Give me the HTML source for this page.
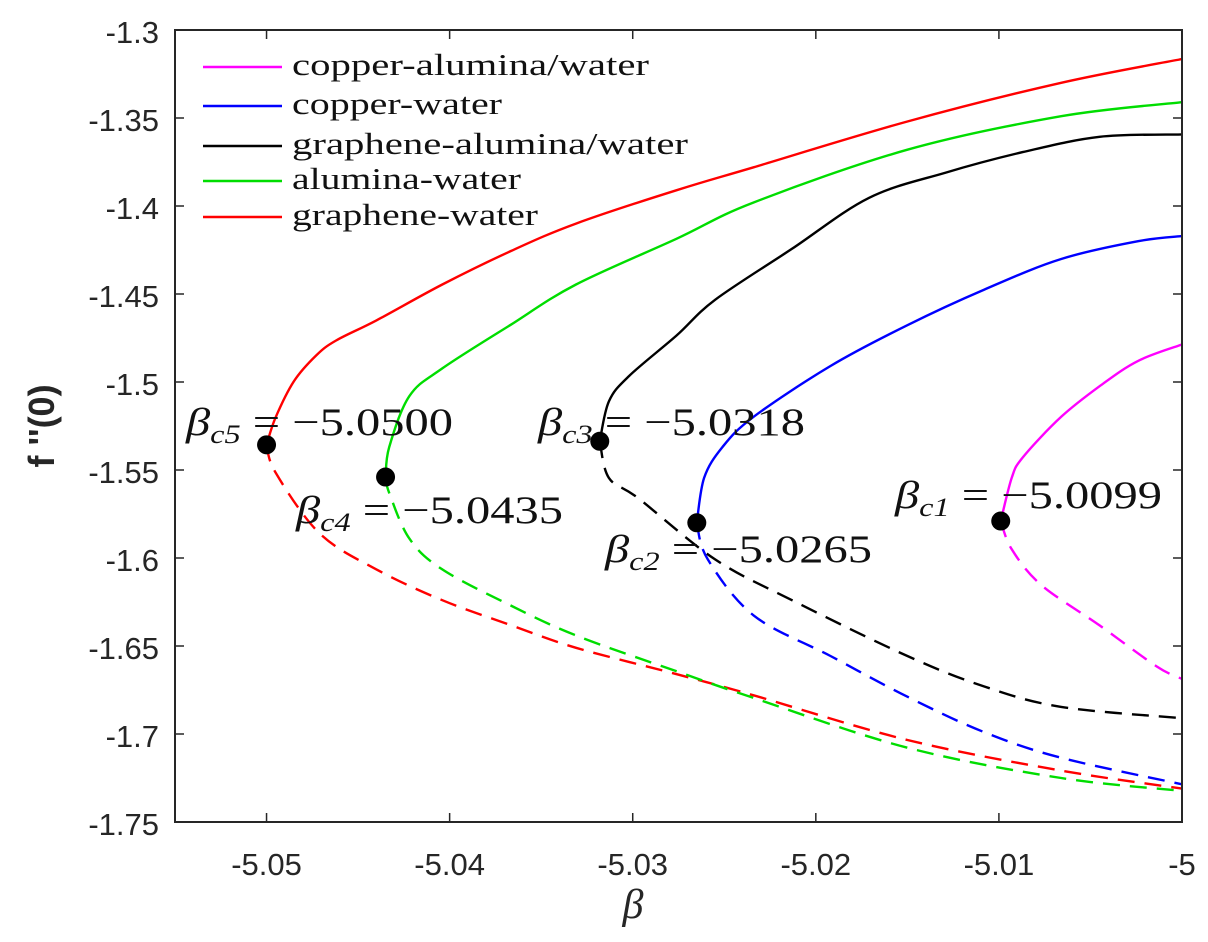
<!DOCTYPE html>
<html><head><meta charset="utf-8">
<style>
html,body{margin:0;padding:0;background:#fff;}
svg{display:block;}
.tick{font-family:"Liberation Sans",Arial,sans-serif;font-size:31px;fill:#262626;}
.leg{font-family:"Liberation Serif",serif;font-size:31px;fill:#111;}
.ann{font-family:"Liberation Serif",serif;font-size:39px;fill:#111;}
</style></head>
<body>
<svg id="chart" width="1208" height="942" viewBox="0 0 1208 942">
<rect x="0" y="0" width="1208" height="942" fill="#fff"/>
<g id="series"></g>
<g id="axes"></g>
<g id="legend"></g>
<g id="ann"></g>
</svg>
<script>
const xTicks=[-5.05,-5.04,-5.03,-5.02,-5.01,-5];
const xTickLabels=["-5.05","-5.04","-5.03","-5.02","-5.01","-5"];
const yTicks=[-1.3,-1.35,-1.4,-1.45,-1.5,-1.55,-1.6,-1.65,-1.7,-1.75];
const yTickLabels=["-1.3","-1.35","-1.4","-1.45","-1.5","-1.55","-1.6","-1.65","-1.7","-1.75"];
const seriesNames=["copper-alumina/water","copper-water","graphene-alumina/water","alumina-water","graphene-water"];
const seriesColors=["#ff00ff","#0000ff","#000000","#00dd00","#ff0000"];
const criticalBeta=[-5.0099,-5.0265,-5.0318,-5.0435,-5.0500];
const criticalF=[-1.579,-1.580,-1.5337,-1.554,-1.5357];
const criticalLabels=["\u22125.0099","\u22125.0265","\u22125.0318","\u22125.0435","\u22125.0500"];
const magentaUpperB=[-5.0099,-5.0093,-5.0087,-5.0066,-5.0045,-5.0024,-5.0];
const magentaUpperF=[-1.579,-1.5545,-1.5429,-1.5198,-1.5024,-1.488,-1.4787];
const magentaLowerB=[-5.0099,-5.0093,-5.0077,-5.0045,-5.0014,-5.0];
const magentaLowerF=[-1.579,-1.595,-1.6152,-1.6383,-1.6615,-1.6687];
const blueUpperB=[-5.0265,-5.0261,-5.0251,-5.0234,-5.0192,-5.015,-5.0108,-5.0066,-5.0024,-5.0];
const blueUpperF=[-1.580,-1.5545,-1.537,-1.5198,-1.4909,-1.4677,-1.4475,-1.4301,-1.42,-1.4171];
const blueLowerB=[-5.0265,-5.0259,-5.0234,-5.0192,-5.015,-5.0108,-5.0066,-5.0];
const blueLowerF=[-1.580,-1.6008,-1.6326,-1.6557,-1.6788,-1.699,-1.7135,-1.7286];
const blackUpperB=[-5.0318,-5.0313,-5.0302,-5.0276,-5.0255,-5.0213,-5.0171,-5.0129,-5.0087,-5.0045,-5.0];
const blackUpperF=[-1.5337,-1.511,-1.4966,-1.4735,-1.4533,-1.4243,-1.3954,-1.381,-1.3694,-1.3607,-1.3593];
const blackLowerB=[-5.0318,-5.0313,-5.0297,-5.0255,-5.0213,-5.015,-5.0108,-5.0066,-5.0];
const blackLowerF=[-1.5337,-1.5545,-1.566,-1.6008,-1.624,-1.6557,-1.673,-1.6846,-1.691];
const greenUpperB=[-5.0435,-5.0433,-5.0422,-5.0404,-5.0367,-5.0331,-5.0276,-5.0234,-5.015,-5.0066,-5.0];
const greenUpperF=[-1.554,-1.537,-1.508,-1.4923,-1.4677,-1.4446,-1.4186,-1.398,-1.368,-1.349,-1.341];
const greenLowerB=[-5.0435,-5.0433,-5.0422,-5.0404,-5.0367,-5.0331,-5.0276,-5.0234,-5.015,-5.0066,-5.0];
const greenLowerF=[-1.554,-1.563,-1.589,-1.6065,-1.6268,-1.644,-1.6644,-1.6795,-1.7078,-1.725,-1.7323];
const redUpperB=[-5.05,-5.0495,-5.0485,-5.0473,-5.0462,-5.044,-5.0404,-5.0367,-5.0331,-5.0276,-5.0234,-5.015,-5.0066,-5.0];
const redUpperF=[-1.5357,-1.52,-1.4995,-1.485,-1.4764,-1.465,-1.4446,-1.4258,-1.41,-1.391,-1.378,-1.352,-1.33,-1.3165];
const redLowerB=[-5.05,-5.0495,-5.0471,-5.044,-5.0404,-5.0367,-5.0331,-5.0276,-5.0234,-5.015,-5.0066,-5.0];
const redLowerF=[-1.5357,-1.5516,-1.586,-1.6065,-1.624,-1.638,-1.651,-1.666,-1.678,-1.7034,-1.7208,-1.731];

const L=175,R=1182,T=30,B=822;
const xMin=-5.055,xMax=-5.0,yMin=-1.75,yMax=-1.3;
function sx(v){return L+(v-xMin)/(xMax-xMin)*(R-L);}
function sy(v){return B-(v-yMin)/(yMax-yMin)*(B-T);}
const NS="http://www.w3.org/2000/svg";
function mk(tag,attrs,parent){const e=document.createElementNS(NS,tag);for(const k in attrs)e.setAttribute(k,attrs[k]);parent.appendChild(e);return e;}
function smooth(bs,fs){
  const p=bs.map((b,i)=>[sx(b),sy(fs[i])]);
  let d="M"+p[0][0].toFixed(1)+","+p[0][1].toFixed(1);
  for(let i=0;i<p.length-1;i++){
    const p0=p[i-1]||p[i],p1=p[i],p2=p[i+1],p3=p[i+2]||p2;
    const c1=[p1[0]+(p2[0]-p0[0])/6,p1[1]+(p2[1]-p0[1])/6];
    const c2=[p2[0]-(p3[0]-p1[0])/6,p2[1]-(p3[1]-p1[1])/6];
    d+=" C"+c1[0].toFixed(1)+","+c1[1].toFixed(1)+" "+c2[0].toFixed(1)+","+c2[1].toFixed(1)+" "+p2[0].toFixed(1)+","+p2[1].toFixed(1);
  }
  return d;
}
const sg=document.getElementById('series');
const uppers=[[magentaUpperB,magentaUpperF],[blueUpperB,blueUpperF],[blackUpperB,blackUpperF],[greenUpperB,greenUpperF],[redUpperB,redUpperF]];
const lowers=[[magentaLowerB,magentaLowerF],[blueLowerB,blueLowerF],[blackLowerB,blackLowerF],[greenLowerB,greenLowerF],[redLowerB,redLowerF]];
const keys=["copper-alumina","copper","graphene-alumina","alumina","graphene"];
for(let i=4;i>=0;i--){
  const lo=mk('path',{d:smooth(lowers[i][0],lowers[i][1]),fill:'none',stroke:seriesColors[i],'stroke-width':2.4,'stroke-dasharray':'17,10'},sg);
  
  
  const up=mk('path',{d:smooth(uppers[i][0],uppers[i][1]),fill:'none',stroke:seriesColors[i],'stroke-width':2.4},sg);
  
  
}
const ag=document.getElementById('axes');
const frame=mk('rect',{x:L,y:T,width:R-L,height:B-T,fill:'none',stroke:'#262626','stroke-width':2},ag);


xTicks.forEach((v,i)=>{
  mk('line',{x1:sx(v),x2:sx(v),y1:B,y2:B-9,stroke:'#262626','stroke-width':1.5},ag);
  mk('line',{x1:sx(v),x2:sx(v),y1:T,y2:T+9,stroke:'#262626','stroke-width':1.5},ag);
  const t=mk('text',{x:sx(v),y:B+53,'text-anchor':'middle',class:'tick'},ag);
  t.textContent=xTickLabels[i];
  
  
});
yTicks.forEach((v,i)=>{
  mk('line',{x1:L,x2:L+9,y1:sy(v),y2:sy(v),stroke:'#262626','stroke-width':1.5},ag);
  mk('line',{x1:R,x2:R-9,y1:sy(v),y2:sy(v),stroke:'#262626','stroke-width':1.5},ag);
  const t=mk('text',{x:L-16,y:sy(v)+13,'text-anchor':'end',class:'tick'},ag);
  t.textContent=yTickLabels[i];
  
  
});
const xl=mk('text',{x:633,y:918,'text-anchor':'middle','font-family':'Liberation Serif,serif','font-style':'italic','font-size':42,fill:'#262626'},ag);
xl.textContent='β';


const yl=mk('text',{x:0,y:0,'text-anchor':'middle','font-family':'Liberation Sans,sans-serif','font-weight':'bold','font-size':36,fill:'#262626',transform:'translate(54,426) rotate(-90)'},ag);
yl.textContent="f ''(0)";


const lg=document.getElementById('legend');
const legY=[67,106,146,181,217];
const legW=[357,210,396,229,246];
seriesNames.forEach((n,i)=>{
  const ln=mk('line',{x1:203,x2:282,y1:legY[i],y2:legY[i],stroke:seriesColors[i],'stroke-width':2.4},lg);
  
  
  const t=mk('text',{x:292,y:legY[i]+8,class:'leg',textLength:legW[i],lengthAdjust:'spacingAndGlyphs'},lg);
  t.textContent=n;
  
  
});
const an=document.getElementById('ann');
const annX=[895,605,538,296,186];
const annY=[508,562,435,523,435];
const subs=["c1","c2","c3","c4","c5"];
for(let i=0;i<5;i++){
  const t=mk('text',{x:annX[i],y:annY[i],class:'ann',textLength:267,lengthAdjust:'spacingAndGlyphs'},an);
  
  
  const b=mk('tspan',{'font-style':'italic'},t);b.textContent='β';
  const s=mk('tspan',{'font-style':'italic','font-size':26,dy:8},t);s.textContent=subs[i];
  const r=mk('tspan',{dy:-8},t);r.textContent=' = '+criticalLabels[i];
  const c=mk('circle',{cx:sx(criticalBeta[i]),cy:sy(criticalF[i]),r:9.5,fill:'#000'},an);
  
  
}
</script>
</body></html>
